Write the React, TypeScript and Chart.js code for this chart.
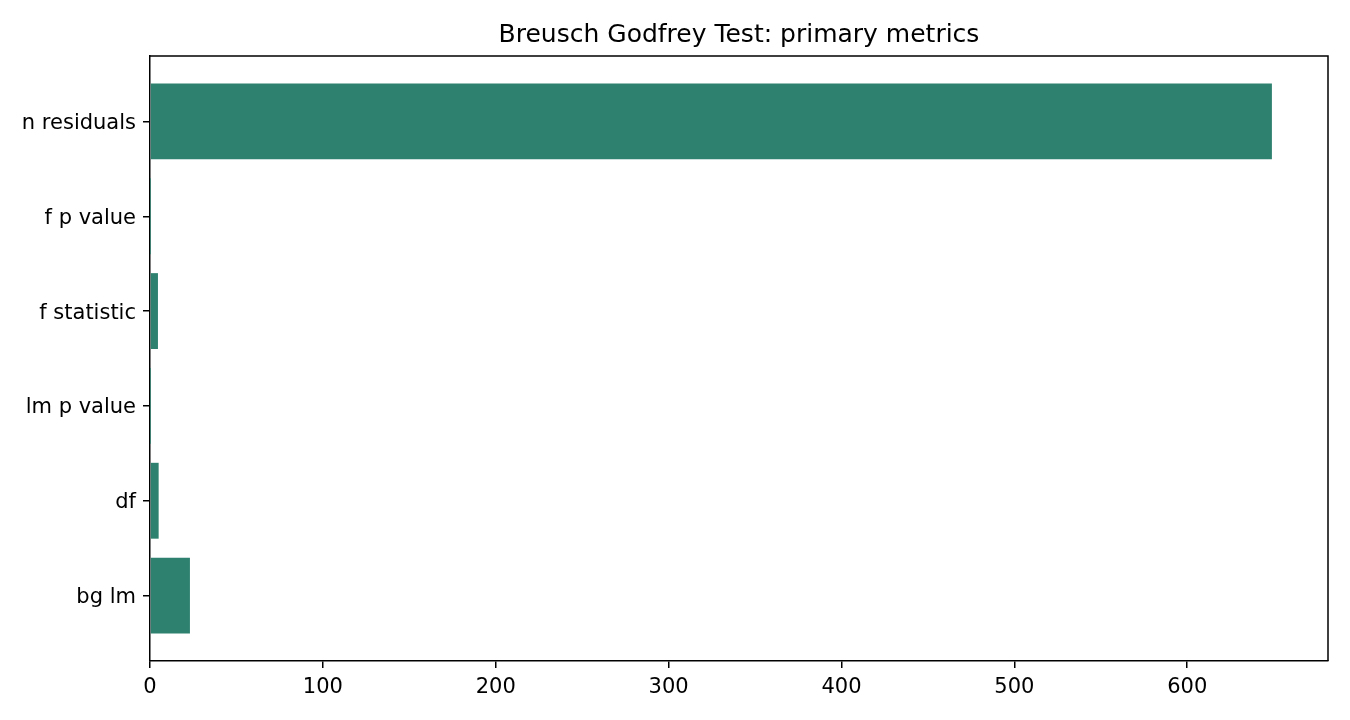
import React, { useEffect, useRef } from "react";
import { Chart, registerables } from "chart.js";

Chart.register(...registerables);

const categories = ["bg lm", "df", "lm p value", "f statistic", "f p value", "n residuals"];
const values = [23.1, 5, 0.0002, 4.6, 0.0001, 649];
const xTicks = [0, 100, 200, 300, 400, 500, 600];
const titleText = "Breusch Godfrey Test: primary metrics";

const BAR_COLOR = "rgb(46,128,111)";
const FONT = "'DejaVu Sans', sans-serif";
const LINE_W = 1.5;

export default function App() {
  const ref = useRef<HTMLCanvasElement | null>(null);

  useEffect(() => {
    if (!ref.current) return;
    const maxVal = Math.max(...values);
    const n = categories.length;
    const barHalf = 0.4;
    const span = (n - 1) + 2 * barHalf;
    const yMin = -barHalf - span * 0.05;
    const yMax = n - 1 + barHalf + span * 0.05;

    const framePlugin = {
      id: "frameAndTitle",
      afterDraw(chart: any) {
        const { ctx, chartArea } = chart;
        ctx.save();
        ctx.strokeStyle = "#000";
        ctx.lineWidth = LINE_W;
        ctx.beginPath();
        ctx.moveTo(chartArea.left, chartArea.top);
        ctx.lineTo(chartArea.right, chartArea.top);
        ctx.lineTo(chartArea.right, chartArea.bottom);
        ctx.stroke();
        ctx.fillStyle = "#000";
        ctx.font = `25px ${FONT}`;
        ctx.textAlign = "center";
        ctx.textBaseline = "alphabetic";
        ctx.fillText(titleText, (chartArea.left + chartArea.right) / 2, chartArea.top - 14);
        ctx.restore();
      },
    };

    const chart = new Chart(ref.current, {
      type: "bar",
      data: {
        datasets: [
          {
            data: values.map((v, i) => ({ x: v, y: i })),
            backgroundColor: BAR_COLOR,
            borderWidth: 0,
            barPercentage: 0.8,
            categoryPercentage: 1.0,
          },
        ],
      },
      options: {
        indexAxis: "y",
        animation: false,
        responsive: false,
        maintainAspectRatio: false,
        layout: { padding: { left: 0, right: 22, top: 56, bottom: 0 } },
        plugins: {
          legend: { display: false },
          title: { display: false },
          tooltip: { enabled: false },
        },
        scales: {
          x: {
            type: "linear",
            min: 0,
            max: maxVal * 1.05,
            offset: false,
            afterBuildTicks(scale: any) {
              scale.ticks = xTicks.map((v) => ({ value: v }));
            },
            afterFit(scale: any) {
              scale.height = 59;
            },
            grid: {
              offset: false,
              drawOnChartArea: false,
              drawTicks: true,
              tickLength: 7,
              tickWidth: LINE_W,
              lineWidth: LINE_W,
              color: "#000",
            },
            border: { display: true, color: "#000", width: LINE_W },
            ticks: {
              color: "#000",
              font: { family: FONT, size: 21 },
              padding: 7,
              maxRotation: 0,
            },
          },
          y: {
            type: "linear",
            min: yMin,
            max: yMax,
            offset: false,
            afterBuildTicks(scale: any) {
              scale.ticks = categories.map((_, i) => ({ value: i }));
            },
            afterFit(scale: any) {
              scale.width = 150;
            },
            grid: {
              offset: false,
              drawOnChartArea: false,
              drawTicks: true,
              tickLength: 7,
              tickWidth: LINE_W,
              lineWidth: LINE_W,
              color: "#000",
            },
            border: { display: true, color: "#000", width: LINE_W },
            ticks: {
              color: "#000",
              font: { family: FONT, size: 21 },
              padding: 7,
              labelOffset: 2,
              callback: (v: any) => categories[Math.round(Number(v))] ?? "",
            },
          },
        },
      },
      plugins: [framePlugin],
    } as any);

    return () => chart.destroy();
  }, []);

  return (
    <div style={{ position: "fixed", left: 0, top: 0, width: 1350, height: 720, background: "#fff" }}>
      <canvas ref={ref} width={1350} height={720} style={{ width: 1350, height: 720 }} />
    </div>
  );
}
